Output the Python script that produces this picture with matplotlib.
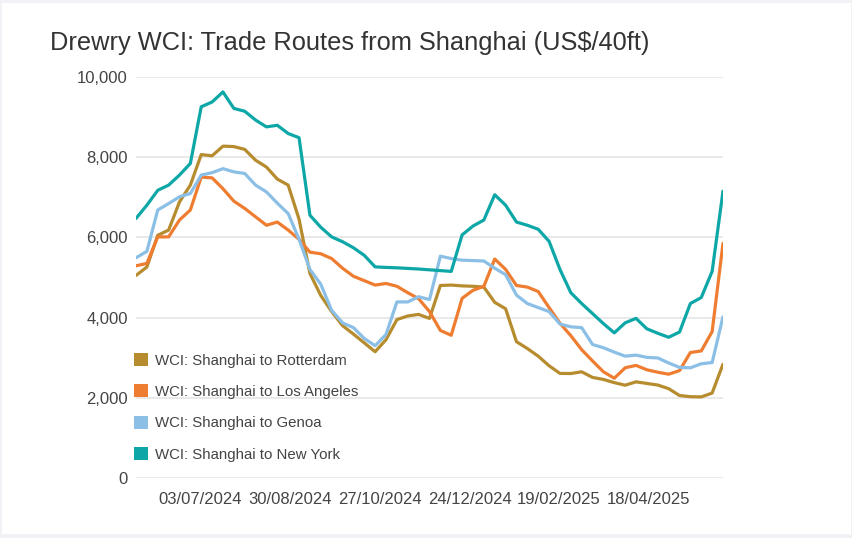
import matplotlib
matplotlib.use("Agg")
import matplotlib.pyplot as plt
from matplotlib.patches import Patch, Rectangle
import pandas as pd

plt.rcParams['font.family'] = ['Liberation Sans', 'DejaVu Sans']

# ---- data (weekly Drewry WCI readings, US$/40ft) ----
start_date = "2024-05-23"
n_weeks = 55
series_names = ["WCI: Shanghai to Rotterdam", "WCI: Shanghai to Los Angeles",
                "WCI: Shanghai to Genoa", "WCI: Shanghai to New York"]
rotterdam = [5050, 5260, 6050, 6180, 6880, 7300, 8060, 8030, 8270, 8260,
             8190, 7920, 7750, 7450, 7300, 6450, 5100, 4550, 4150, 3800,
             3590, 3370, 3150, 3450, 3950, 4040, 4080, 3980, 4800, 4810,
             4790, 4780, 4760, 4380, 4220, 3400, 3230, 3040, 2800, 2610,
             2607, 2650, 2510, 2460, 2380, 2316, 2400, 2360, 2320, 2230,
             2060, 2030, 2025, 2120, 2840]
los_angeles = [5290, 5350, 6010, 6010, 6430, 6680, 7500, 7480, 7210, 6900,
               6720, 6510, 6300, 6380, 6180, 5950, 5630, 5590, 5470, 5230,
               5030, 4920, 4810, 4850, 4780, 4620, 4470, 4150, 3680, 3560,
               4480, 4680, 4780, 5460, 5200, 4800, 4760, 4650, 4250, 3860,
               3550, 3200, 2920, 2650, 2490, 2750, 2810, 2700, 2640, 2590,
               2680, 3130, 3170, 3650, 5850]
genoa = [5490, 5650, 6680, 6840, 7010, 7090, 7550, 7610, 7710, 7630,
         7590, 7300, 7130, 6850, 6590, 5950, 5200, 4830, 4180, 3870,
         3750, 3480, 3300, 3580, 4390, 4390, 4520, 4450, 5530, 5470,
         5430, 5420, 5410, 5230, 5070, 4560, 4350, 4250, 4150, 3840,
         3770, 3750, 3330, 3250, 3140, 3040, 3065, 3010, 2995, 2870,
         2760, 2750, 2850, 2880, 4020]
new_york = [6470, 6800, 7170, 7300, 7550, 7840, 9250, 9370, 9620, 9210,
            9140, 8920, 8750, 8790, 8585, 8480, 6550, 6250, 6010, 5890,
            5740, 5550, 5263, 5250, 5240, 5225, 5210, 5190, 5170, 5150,
            6060, 6280, 6430, 7060, 6800, 6380, 6300, 6200, 5900, 5200,
            4620, 4350, 4100, 3850, 3620, 3870, 3980, 3720, 3610, 3510,
            3640, 4350, 4500, 5150, 7150]
x_tick_labels = ["03/07/2024", "30/08/2024", "27/10/2024", "24/12/2024",
                 "19/02/2025", "18/04/2025"]
y_ticks = [0, 2000, 4000, 6000, 8000, 10000]

colors = ["#b68c2f", "#ef7d31", "#8bbfe6", "#0ea7a7"]

# ---- figure ----
W, H = 853, 538
fig = plt.figure(figsize=(W / 100, H / 100), dpi=100)
fig.patch.set_facecolor("#f0f2f5")
fig.patches.append(Rectangle((2 / W, 1 - 534 / H), (851 - 2) / W, (534 - 3) / H,
                             transform=fig.transFigure, facecolor="white",
                             edgecolor="none", zorder=-10))

ax = fig.add_axes([136 / W, 1 - 478.2 / H, (723 - 136) / W, (478.2 - 76.7) / H])
ax.set_facecolor("none")
ax.set_zorder(2)

dates = pd.date_range(start_date, periods=n_weeks, freq="7D")
all_series = [rotterdam, los_angeles, genoa, new_york]
for vals, c in zip(all_series, colors):
    ax.plot(dates, vals, color=c, lw=2.3, solid_joinstyle="round",
            solid_capstyle="round", zorder=3)

ax.set_xlim(dates[0], dates[-1])
ax.set_ylim(0, 10000)
ax.set_yticks(y_ticks)
ax.set_yticklabels([f"{v:,}" for v in y_ticks])
ax.set_xticks(pd.to_datetime(x_tick_labels, format="%d/%m/%Y"))
ax.set_xticklabels(x_tick_labels)

ax.grid(axis="y", color="#e3e3e3", lw=1.1, zorder=1)
ax.grid(axis="x", visible=False)
for s in ax.spines.values():
    s.set_visible(False)
ax.tick_params(axis="both", length=0, labelsize=12, labelcolor="#444444")
ax.tick_params(axis="y", pad=6)
ax.tick_params(axis="x", pad=10)
ax.set_axisbelow(True)

fig.text(50 / W, 1 - 43 / H, "Drewry WCI: Trade Routes from Shanghai (US$/40ft)",
         fontsize=18.3, color="#333333", ha="left", va="center", zorder=3)

handles = [Patch(facecolor=c, edgecolor="none", label=n)
           for c, n in zip(colors, series_names)]
leg = ax.legend(handles=handles, loc="upper left",
                bbox_to_anchor=(133.7 / W, 1 - 353 / H),
                bbox_transform=fig.transFigure, frameon=False, fontsize=10.8,
                handlelength=0.95, handleheight=0.95, handletextpad=0.45,
                labelspacing=1.12, borderpad=0, borderaxespad=0)
for t in leg.get_texts():
    t.set_color("#444444")
leg.set_zorder(5)

fig.savefig("out.png", dpi=100, facecolor=fig.get_facecolor())
